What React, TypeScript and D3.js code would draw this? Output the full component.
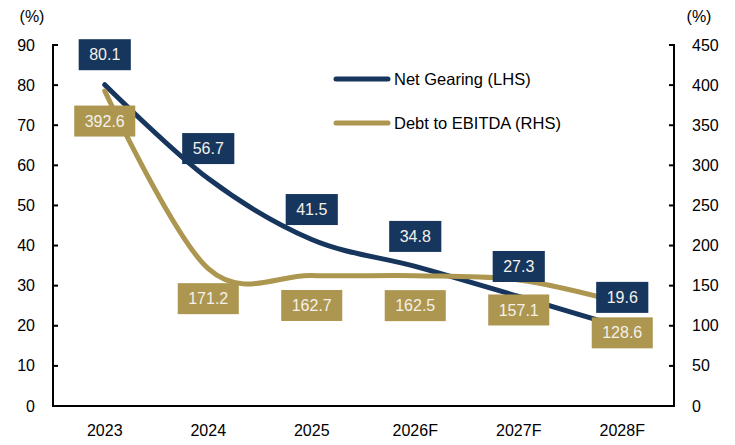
import React, { useEffect, useRef } from "react";
import * as d3 from "d3";

const categories = ["2023", "2024", "2025", "2026F", "2027F", "2028F"];
const netGearing = [80.1, 56.7, 41.5, 34.8, 27.3, 19.6];
const debtToEbitda = [392.6, 171.2, 162.7, 162.5, 157.1, 128.6];
const leftTicks = [0, 10, 20, 30, 40, 50, 60, 70, 80, 90];
const rightTicks = [0, 50, 100, 150, 200, 250, 300, 350, 400, 450];
const seriesNames = ["Net Gearing (LHS)", "Debt to EBITDA (RHS)"];

const NAVY = "#17365d";
const GOLD = "#ad964f";
const FONT = "'Liberation Sans', Arial, sans-serif";

export default function App() {
  const ref = useRef<SVGSVGElement>(null);

  useEffect(() => {
    const svg = d3.select(ref.current);
    svg.selectAll("*").remove();

    const left = 53, right = 674, top = 45, bottom = 406;
    const x = d3.scalePoint<string>().domain(categories).range([left, right]).padding(0.5);
    const yL = d3.scaleLinear().domain([0, 90]).range([bottom, top]);
    const yR = d3.scaleLinear().domain([0, 450]).range([bottom, top]);

    // axes lines
    const ax = svg.append("g").attr("stroke", "#000").attr("stroke-width", 2);
    ax.append("line").attr("x1", left).attr("x2", left).attr("y1", top - 1).attr("y2", bottom + 1);
    ax.append("line").attr("x1", right).attr("x2", right).attr("y1", top - 1).attr("y2", bottom + 1);
    ax.append("line").attr("x1", left - 1).attr("x2", right + 1).attr("y1", bottom).attr("y2", bottom);
    leftTicks.forEach((t) => {
      ax.append("line").attr("x1", left).attr("x2", left + 5).attr("y1", yL(t)).attr("y2", yL(t));
    });
    rightTicks.forEach((t) => {
      ax.append("line").attr("x1", right - 5).attr("x2", right).attr("y1", yR(t)).attr("y2", yR(t));
    });

    const txt = svg.append("g").attr("font-family", FONT).attr("font-size", 16).attr("fill", "#000");
    leftTicks.forEach((t) => {
      txt.append("text").attr("x", 35).attr("y", yL(t)).attr("dy", "0.35em").attr("text-anchor", "end").text(t);
    });
    rightTicks.forEach((t) => {
      txt.append("text").attr("x", 692).attr("y", yR(t)).attr("dy", "0.35em").attr("text-anchor", "start").text(t);
    });
    categories.forEach((c) => {
      txt.append("text").attr("x", x(c)!).attr("y", 430).attr("dy", "0.35em").attr("text-anchor", "middle").text(c);
    });
    txt.append("text").attr("x", 32).attr("y", 16).attr("dy", "0.35em").attr("text-anchor", "middle").text("(%)");
    txt.append("text").attr("x", 699).attr("y", 16).attr("dy", "0.35em").attr("text-anchor", "middle").text("(%)");

    const curve = d3.curveCardinal.tension(0);
    const lineL = d3.line<number>().x((_, i) => x(categories[i])!).y((d) => yL(d)).curve(curve);
    const lineR = d3.line<number>().x((_, i) => x(categories[i])!).y((d) => yR(d)).curve(curve);

    svg.append("path").attr("d", lineL(netGearing)!).attr("fill", "none").attr("stroke", NAVY)
      .attr("stroke-width", 5).attr("stroke-linecap", "round");
    svg.append("path").attr("d", lineR(debtToEbitda)!).attr("fill", "none").attr("stroke", GOLD)
      .attr("stroke-width", 5).attr("stroke-linecap", "round");

    // legend
    const lg = svg.append("g").attr("font-family", FONT).attr("font-size", 16.5);
    [NAVY, GOLD].forEach((col, i) => {
      const yy = 79 + i * 44;
      lg.append("line").attr("x1", 336).attr("x2", 388).attr("y1", yy).attr("y2", yy)
        .attr("stroke", col).attr("stroke-width", 5).attr("stroke-linecap", "round");
      lg.append("text").attr("x", 394).attr("y", yy).attr("dy", "0.35em").attr("fill", "#000").text(seriesNames[i]);
    });

    // labels
    const drawLabel = (cx: number, cy: number, s: string, col: string) => {
      const g = svg.append("g");
      const rect = g.append("rect").attr("fill", col);
      const t = g.append("text").attr("x", cx).attr("y", cy).attr("dy", "0.35em")
        .attr("text-anchor", "middle").attr("font-family", FONT).attr("font-size", 16)
        .attr("fill", "#f4f1ea").text(s);
      const w = (t.node() as SVGTextElement).getComputedTextLength() + 21;
      rect.attr("x", cx - w / 2).attr("y", cy - 15.5).attr("width", w).attr("height", 31);
    };
    netGearing.forEach((v, i) => drawLabel(x(categories[i])!, yL(v) - 30, v.toFixed(1), NAVY));
    debtToEbitda.forEach((v, i) => drawLabel(x(categories[i])!, yR(v) + 30, v.toFixed(1), GOLD));
  }, []);

  return (
    <svg ref={ref} width={735} height={445}
      style={{ position: "absolute", left: 0, top: 0, background: "#fff" }} />
  );
}
